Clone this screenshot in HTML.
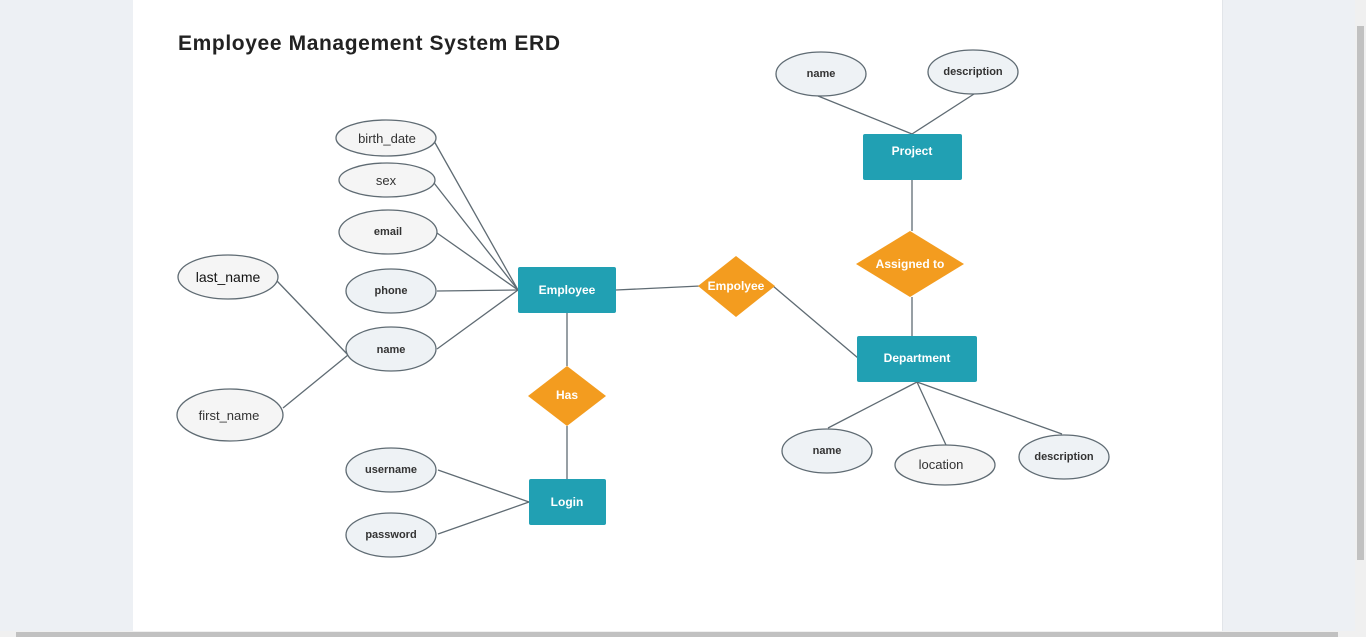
<!DOCTYPE html>
<html><head><meta charset="utf-8"><style>
body{margin:0;width:1366px;height:637px;overflow:hidden;background:#edf0f4;position:relative;font-family:"Liberation Sans",sans-serif}
#panel{position:absolute;left:133px;top:0;width:1089px;height:631px;background:#fff;border-right:1px solid #e2e5e9}
#vs{position:absolute;left:1355px;top:0;width:11px;height:631px;background:#f0f0f0}
#vt{position:absolute;left:1357px;top:26px;width:7px;height:534px;background:#c1c1c1}
#hs{position:absolute;left:0;top:631px;width:1366px;height:6px;background:#f0f0f0}
#ht{position:absolute;left:16px;top:632px;width:1322px;height:5px;background:#c1c1c1}
svg{position:absolute;left:0;top:0}
</style></head><body>
<div id="panel"></div><div id="vs"></div><div id="vt"></div><div id="hs"></div><div id="ht"></div>
<svg width="1366" height="637" font-family="Liberation Sans, sans-serif">
<text x="178" y="50" font-size="21" font-weight="900" fill="#222" textLength="382" lengthAdjust="spacing">Employee Management System ERD</text>
<g stroke="#5f6b73" stroke-width="1.3" fill="none">
<line x1="434" y1="141" x2="518" y2="290"/><line x1="434" y1="183" x2="518" y2="290"/>
<line x1="437" y1="233" x2="518" y2="290"/><line x1="437" y1="291" x2="518" y2="290"/>
<line x1="437" y1="349" x2="518" y2="290"/>
<line x1="277" y1="281" x2="348" y2="355"/><line x1="283" y1="408" x2="348" y2="355"/>
<line x1="616" y1="290" x2="700" y2="286"/><line x1="773" y1="286" x2="858" y2="358"/>
<line x1="567" y1="313" x2="567" y2="366"/><line x1="567" y1="426" x2="567" y2="479"/>
<line x1="438" y1="470" x2="529" y2="502"/><line x1="438" y1="534" x2="529" y2="502"/>
<line x1="818" y1="96" x2="912" y2="134"/><line x1="974" y1="94" x2="912" y2="134"/>
<line x1="912" y1="180" x2="912" y2="231"/><line x1="912" y1="297" x2="912" y2="336"/>
<line x1="917" y1="382" x2="828" y2="428"/><line x1="917" y1="382" x2="946" y2="445"/><line x1="917" y1="382" x2="1062" y2="434"/>
</g>
<g stroke="#5f6b73" stroke-width="1.3">
<ellipse cx="386" cy="138" rx="50" ry="18" fill="#f5f5f5"/>
<ellipse cx="387" cy="180" rx="48" ry="17" fill="#f5f5f5"/>
<ellipse cx="388" cy="232" rx="49" ry="22" fill="#f5f5f5"/>
<ellipse cx="391" cy="291" rx="45" ry="22" fill="#eef2f5"/>
<ellipse cx="391" cy="349" rx="45" ry="22" fill="#eef2f5"/>
<ellipse cx="228" cy="277" rx="50" ry="22" fill="#f5f5f5"/>
<ellipse cx="230" cy="415" rx="53" ry="26" fill="#f5f5f5"/>
<ellipse cx="391" cy="470" rx="45" ry="22" fill="#eef2f5"/>
<ellipse cx="391" cy="535" rx="45" ry="22" fill="#eef2f5"/>
<ellipse cx="821" cy="74" rx="45" ry="22" fill="#eef2f5"/>
<ellipse cx="973" cy="72" rx="45" ry="22" fill="#eef2f5"/>
<ellipse cx="827" cy="451" rx="45" ry="22" fill="#eef2f5"/>
<ellipse cx="945" cy="465" rx="50" ry="20" fill="#f5f5f5"/>
<ellipse cx="1064" cy="457" rx="45" ry="22" fill="#eef2f5"/>
</g>
<g fill="#21a0b3">
<rect x="518" y="267" width="98" height="46" rx="2"/>
<rect x="529" y="479" width="77" height="46" rx="2"/>
<rect x="863" y="134" width="99" height="46" rx="2"/>
<rect x="857" y="336" width="120" height="46" rx="2"/>
</g>
<g fill="#f39c1f">
<polygon points="736,256 775,286 736,317 698,286"/>
<polygon points="567,366 606,396 567,426 528,396"/>
<polygon points="910,231 964,264 910,297 856,264"/>
</g>
<g font-size="12" font-weight="bold" fill="#fff" text-anchor="middle">
<text x="567" y="294">Employee</text><text x="567" y="506">Login</text>
<text x="912" y="155">Project</text><text x="917" y="362">Department</text>
<text x="736" y="290">Empolyee</text><text x="567" y="399">Has</text><text x="910" y="268">Assigned to</text>
</g>
<g font-size="13" fill="#333" text-anchor="middle">
<text x="387" y="143">birth_date</text><text x="386" y="185">sex</text>
<text x="228" y="282" font-size="14" fill="#111">last_name</text><text x="229" y="420">first_name</text>
<text x="941" y="469">location</text>
</g>
<g font-size="11" font-weight="bold" fill="#333" text-anchor="middle">
<text x="388" y="235">email</text><text x="391" y="294">phone</text><text x="391" y="353">name</text>
<text x="391" y="473">username</text><text x="391" y="538">password</text>
<text x="821" y="77">name</text><text x="973" y="75">description</text>
<text x="827" y="454">name</text><text x="1064" y="460">description</text>
</g>
</svg>
</body></html>
